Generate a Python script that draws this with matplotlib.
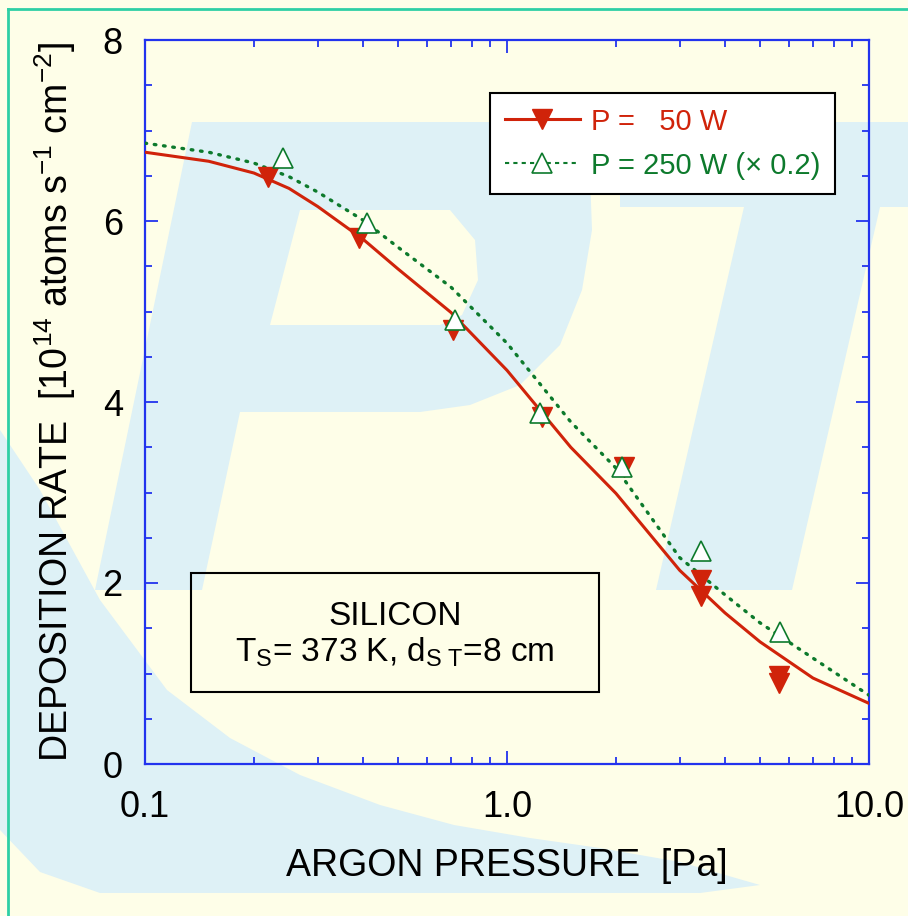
import matplotlib.pyplot as plt
from matplotlib.patches import Polygon, Rectangle
from matplotlib.lines import Line2D
from matplotlib.ticker import MultipleLocator, LogLocator, NullFormatter

plt.rcParams['font.family'] = ['Liberation Sans', 'DejaVu Sans']
plt.rcParams['mathtext.fontset'] = 'custom'
plt.rcParams['mathtext.rm'] = 'Liberation Sans'
plt.rcParams['mathtext.it'] = 'Liberation Sans:italic'
plt.rcParams['mathtext.bf'] = 'Liberation Sans:bold'

# measured points
p50_x = [0.219, 0.390, 0.709, 1.25, 2.10, 3.43, 3.43, 5.64, 5.64]
p50_y = [6.49, 5.81, 4.80, 3.83, 3.28, 2.03, 1.86, 0.97, 0.90]
p250_x = [0.240, 0.410, 0.72, 1.23, 2.08, 3.43, 5.66]
p250_y = [6.70, 5.98, 4.91, 3.88, 3.28, 2.35, 1.46]

# fit curves
fit_x = [0.1, 0.15, 0.2, 0.25, 0.3, 0.4, 0.5, 0.7, 1.0, 1.5, 2.0, 3.0, 4.0, 5.0, 7.0, 10.0]
fit50_y = [6.76, 6.66, 6.53, 6.36, 6.16, 5.80, 5.47, 4.99, 4.35, 3.50, 2.99, 2.14, 1.67, 1.35, 0.95, 0.67]
fit250_y = [6.86, 6.76, 6.64, 6.49, 6.32, 6.01, 5.71, 5.27, 4.65, 3.78, 3.27, 2.28, 1.87, 1.56, 1.17, 0.76]

labels = ['P =   50 W', 'P = 250 W (× 0.2)']

RED = '#d0230a'
GREEN = '#0d7a2c'
BLUE = '#2233ee'
TEAL = '#2ecfa5'
BG = '#fefee8'
WM = '#def1f6'

W, H = 908, 916
fig = plt.figure(figsize=(W / 100, H / 100), dpi=100, facecolor=BG)


def px(pts):
    return [(x / W, 1 - y / H) for x, y in pts]


# background "PT" watermark
shapes = [
    [(192, 122), (540, 122), (575, 140), (590, 175), (592, 230), (582, 290), (560, 345),
     (520, 385), (470, 405), (420, 412), (240, 412), (202, 590), (95, 590)],
    [(620, 122), (908, 122), (908, 207), (880, 207), (792, 590), (656, 590), (744, 207), (620, 207)],
    [(0, 430), (40, 490), (100, 600), (167, 690), (230, 738), (300, 775), (380, 805), (454, 825),
     (530, 838), (600, 848), (680, 862), (760, 885), (700, 893), (100, 893), (40, 872), (0, 830)],
]
for s in shapes:
    fig.add_artist(Polygon(px(s), closed=True, fc=WM, ec='none', zorder=-5))
fig.add_artist(Polygon(px([(300, 210), (450, 210), (475, 240), (478, 280), (462, 315),
                           (440, 325), (270, 325)]), closed=True, fc=BG, ec='none', zorder=-4))

# teal frame
fig.add_artist(Line2D([8 / W, 8 / W], [0, 1 - 9 / H], color=TEAL, lw=2))
fig.add_artist(Line2D([8 / W, 1], [1 - 9 / H, 1 - 9 / H], color=TEAL, lw=2))

ax = fig.add_axes([145 / W, 152 / H, 724 / W, 724 / H])
ax.patch.set_visible(False)

ax.plot(fit_x, fit50_y, color=RED, lw=2.2, zorder=3)
ax.plot(fit_x, fit250_y, color=GREEN, lw=2.4, ls=(0, (0.5, 2.3)),
        dash_capstyle='round', zorder=3)
ax.plot(p50_x, p50_y, 'v', color=RED, ms=14, ls='none', zorder=4)
ax.plot(p250_x, p250_y, '^', mfc='white', mec=GREEN, mew=1.2, ms=14, ls='none', zorder=5)

ax.set_xscale('log')
ax.set_xlim(0.1, 10)
ax.set_ylim(0, 8)
ax.set_xticks([0.1, 1, 10], ['0.1', '1.0', '10.0'])
ax.xaxis.set_minor_locator(LogLocator(base=10, subs=range(2, 10)))
ax.xaxis.set_minor_formatter(NullFormatter())
ax.set_yticks([0, 2, 4, 6, 8])
ax.yaxis.set_minor_locator(MultipleLocator(0.5))
ax.tick_params(which='both', direction='in', top=True, right=True, color=BLUE, width=1.3)
ax.tick_params(which='major', length=9.5, labelsize=26)
ax.tick_params(which='minor', length=5)
ax.tick_params(axis='x', which='major', pad=19)
ax.tick_params(axis='y', which='major', pad=16)
for sp in ax.spines.values():
    sp.set_color(BLUE)
    sp.set_linewidth(1.6)

ax.set_xlabel('ARGON PRESSURE  [Pa]', fontsize=27, labelpad=16)
ax.set_ylabel(r'DEPOSITION RATE  [10$^{14}$ atoms s$^{-1}$ cm$^{-2}$]', fontsize=27, labelpad=18)

handles = [
    Line2D([], [], color=RED, lw=2.2, marker='v', ms=14),
    Line2D([], [], color=GREEN, lw=1.5, ls=(0, (2, 2)), marker='^', ms=14,
           mfc='white', mec=GREEN, mew=1.2),
]
leg = ax.legend(handles, labels, loc='upper left', bbox_to_anchor=(0.4765, 0.9268),
                borderaxespad=0, fontsize=21, frameon=True, fancybox=False, framealpha=1,
                edgecolor='black', handlelength=2.6, handletextpad=0.35, borderpad=0.5,
                labelspacing=0.55, numpoints=1, labelcolor='linecolor')
leg.get_frame().set_linewidth(1.5)
leg.set_zorder(10)

ax.add_patch(Rectangle((0.0635, 0.0994), 0.5635, 0.1644, transform=ax.transAxes,
                       fill=False, ec='black', lw=1.5, zorder=6))
ax.text(0.345, 0.192, 'SILICON', transform=ax.transAxes, ha='center', va='baseline', fontsize=24)
ax.text(0.345, 0.141, r'T$_\mathrm{S}$= 373 K, d$_\mathrm{S\ T}$=8 cm', transform=ax.transAxes,
        ha='center', va='baseline', fontsize=24)

fig.savefig('out.png', dpi=100, facecolor=BG)
